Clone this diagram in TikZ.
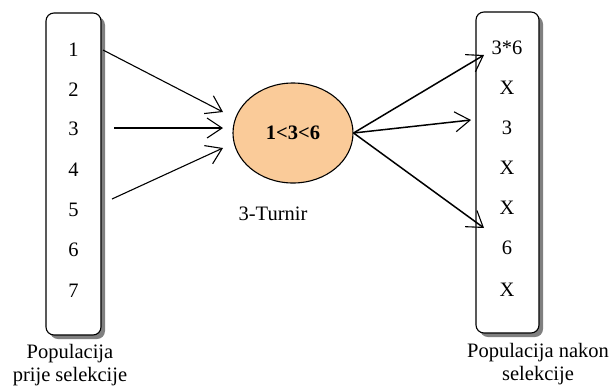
\documentclass[tikz,border=0pt]{standalone}
\usepackage{fontspec}
\setmainfont{Liberation Serif}
\usepackage{xcolor}
\usetikzlibrary{arrows.meta,shapes.geometric}

\begin{document}
\begin{tikzpicture}[x=1pt,y=-1pt,
  txt/.style={font=\fontsize{20.5}{23}\selectfont,inner sep=0pt},
  arr/.style={line width=1.1pt,-{Straight Barb[length=15pt,width=20pt,line width=1.1pt]}}]
\definecolor{cpeach}{RGB}{250,203,153}
\useasboundingbox (0,0) rectangle (611,389);
% left population
\fill[black!50,rounded corners=8pt] (50,17) rectangle (105,339);
\draw[line width=1.1pt,fill=white,rounded corners=8pt] (46,13) rectangle (101,335);
\node[txt] (l1) at (73.5,50) {1};
\node[txt] (l2) at (73.5,90) {2};
\node[txt] (l3) at (73.5,129) {3};
\node[txt] (l4) at (73.5,170) {4};
\node[txt] (l5) at (73.5,210) {5};
\node[txt] (l6) at (73.5,250) {6};
\node[txt] (l7) at (73.5,291) {7};
\node[txt,align=center] (lcap) at (70,365) {Populacija\\prije selekcije};
% right population
\fill[black!50,rounded corners=8pt] (480,16) rectangle (543,337);
\draw[line width=1.1pt,fill=white,rounded corners=8pt] (476,12) rectangle (539,333);
\node[txt] (r1) at (507,48) {3*6};
\node[txt] (r2) at (507,88) {X};
\node[txt] (r3) at (507,128) {3};
\node[txt] (r4) at (507,168) {X};
\node[txt] (r5) at (507,208) {X};
\node[txt] (r6) at (507,248) {6};
\node[txt] (r7) at (507,290) {X};
\node[txt,align=center] (rcap) at (538,364) {Populacija nakon\\selekcije};
% tournament
\node[ellipse,draw,line width=1.1pt,fill=cpeach,minimum width=120pt,minimum height=100pt,
  inner sep=0pt,font=\fontsize{20.5}{23}\selectfont\bfseries] (turnir) at (293,133) {1<3<6};
\node[txt] (tcap) at (273,214) {3-Turnir};
% connectors
\coordinate (a1) at (103,50);
\coordinate (a2) at (114,128);
\coordinate (a3) at (112,199);
\coordinate (b1) at (223,112);
\coordinate (b2) at (223,128);
\coordinate (b3) at (223,148);
\coordinate (c1) at (484,55);
\coordinate (c2) at (471,120);
\coordinate (c3) at (484,228);
\draw[arr] (a1) -- (b1);
\draw[arr,line width=1.8pt] (a2) -- (b2);
\draw[arr] (a3) -- (b3);
\draw[arr,line width=1.5pt] (turnir.east) -- (c1);
\draw[arr,line width=1.5pt] (turnir.east) -- (c2);
\draw[arr,line width=1.5pt] (turnir.east) -- (c3);
\end{tikzpicture}
\end{document}
